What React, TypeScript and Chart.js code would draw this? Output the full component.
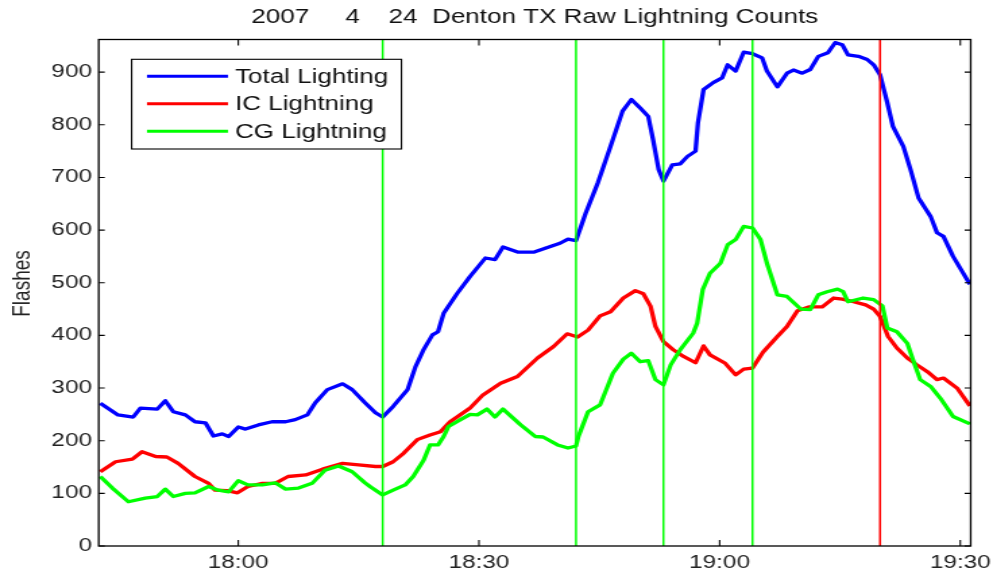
import React, { useEffect, useRef } from 'react';
import { Chart, registerables } from 'chart.js';

Chart.register(...registerables);

// ---------------- data ----------------
const chartTitle = '2007     4    24  Denton TX Raw Lightning Counts';
const yAxisTitle = 'Flashes';

// minutes after 18:00
const xTickValues = [0, 30, 60, 90];
const xTickLabels = ['18:00', '18:30', '19:00', '19:30'];
const yTickValues = [0, 100, 200, 300, 400, 500, 600, 700, 800, 900];

const seriesLabels = ['Total Lighting', 'IC Lightning', 'CG Lightning'];
const seriesColors = ['#0000ff', '#ff0000', '#00ff00'];

const totalTimes = [-17.2, -15.0, -13.1, -12.2, -10.1, -9.1, -8.1, -6.6, -5.4, -4.1, -3.1, -2.0, -1.2, 0, 0.9, 2.5, 4.2, 5.9, 7.1, 8.6, 9.6, 11.1, 13.0, 14.2, 15.8, 17.1, 18.0, 19.3, 21.1, 22.1, 23.1, 24.2, 24.9, 25.6, 27.3, 28.9, 30.8, 32.0, 33.0, 34.9, 36.8, 38.9, 40.1, 41.1, 42.1, 43.3, 44.8, 46.4, 47.9, 49.0, 50.1, 51.1, 51.7, 52.4, 53.0, 54.1, 55.1, 56.0, 57.0, 57.3, 58.0, 59.2, 60.3, 61.0, 62.0, 63.0, 64.1, 65.3, 65.9, 67.2, 68.4, 69.2, 70.3, 71.3, 72.3, 73.5, 74.4, 75.3, 76.0, 77.3, 78.4, 79.2, 80.0, 80.9, 81.6, 82.9, 83.8, 84.8, 86.3, 87.1, 87.9, 89.1, 91.2];
const totalCounts = [271, 249, 245, 262, 260, 276, 255, 249, 236, 234, 209, 213, 208, 226, 222, 230, 236, 236, 240, 249, 272, 297, 308, 297, 272, 253, 245, 265, 297, 341, 373, 401, 407, 442, 480, 512, 547, 544, 568, 558, 558, 569, 575, 583, 580, 632, 689, 759, 826, 848, 832, 816, 772, 715, 693, 724, 726, 740, 750, 804, 867, 880, 889, 914, 902, 938, 935, 927, 902, 872, 898, 904, 898, 905, 930, 937, 956, 952, 933, 930, 924, 914, 895, 842, 797, 759, 715, 661, 626, 595, 588, 550, 497];

const icTimes = [-17.2, -15.3, -13.2, -12.0, -10.3, -8.9, -7.5, -5.4, -3.7, -2.9, -1.4, -0.1, 1.2, 3.0, 4.6, 6.2, 8.4, 10.5, 13.0, 15.0, 17.1, 18.0, 19.3, 20.6, 22.3, 23.9, 25.2, 26.4, 28.9, 30.5, 32.7, 34.8, 37.3, 39.3, 41.0, 42.3, 43.6, 45.1, 46.4, 48.0, 49.5, 50.5, 51.4, 52.0, 53.0, 54.2, 55.5, 57.0, 58.0, 58.8, 60.7, 62.0, 63.0, 64.1, 65.4, 67.2, 68.4, 69.7, 71.1, 72.8, 74.2, 75.3, 76.7, 78.2, 79.2, 80.0, 81.0, 82.1, 83.4, 84.6, 85.9, 87.1, 87.9, 89.6, 91.2];
const icCounts = [141, 160, 165, 179, 170, 169, 157, 132, 119, 106, 105, 101, 113, 119, 119, 132, 135, 146, 157, 154, 151, 151, 160, 176, 202, 211, 217, 236, 262, 287, 309, 322, 357, 379, 403, 397, 410, 437, 445, 471, 485, 479, 455, 417, 388, 373, 360, 348, 380, 363, 347, 325, 336, 338, 368, 398, 417, 447, 454, 454, 471, 469, 464, 458, 450, 436, 398, 376, 357, 344, 331, 316, 319, 300, 266];

const cgTimes = [-17.2, -15.7, -13.7, -11.6, -10.1, -9.1, -8.1, -6.6, -5.4, -3.7, -2.5, -1.2, 0, 1.2, 3.0, 4.6, 5.9, 7.5, 9.2, 10.8, 12.5, 14.2, 15.8, 16.5, 18.0, 19.3, 20.8, 21.8, 23.1, 23.9, 24.9, 25.6, 26.2, 27.7, 28.9, 29.8, 31.0, 32.0, 33.0, 35.2, 37.0, 38.0, 39.8, 41.1, 42.1, 42.4, 43.6, 45.1, 46.7, 48.0, 49.0, 50.1, 51.1, 52.0, 53.0, 53.9, 55.1, 56.7, 57.2, 57.9, 58.8, 60.1, 61.0, 62.0, 63.0, 64.1, 65.1, 65.9, 67.2, 68.4, 70.1, 71.3, 72.3, 73.4, 74.7, 75.4, 76.0, 77.9, 79.2, 80.3, 80.9, 82.1, 83.4, 84.1, 85.0, 86.3, 87.5, 89.1, 91.2];
const cgCounts = [132, 110, 84, 91, 94, 108, 94, 100, 101, 113, 106, 103, 124, 116, 116, 120, 108, 110, 119, 144, 152, 141, 120, 112, 97, 106, 116, 132, 163, 192, 192, 208, 227, 240, 250, 249, 260, 245, 260, 230, 208, 207, 192, 186, 190, 208, 255, 268, 328, 355, 366, 350, 352, 316, 306, 344, 373, 404, 423, 487, 518, 537, 572, 582, 607, 604, 582, 537, 477, 474, 450, 449, 477, 483, 488, 483, 464, 471, 468, 456, 414, 407, 385, 354, 316, 303, 281, 246, 232];

// vertical event markers (minutes after 18:00)
const markerTimes = [18.0, 42.1, 53.0, 64.1, 80.0];
const markerColors = ['#00ff00', '#00ff00', '#00ff00', '#00ff00', '#ff0000'];

// ---------------- layout ----------------
const OUT_W = 993;
const OUT_H = 577;
const IN_W = 736; // internal canvas width, stretched horizontally to OUT_W
const SX = OUT_W / IN_W;
const FONT = '"Liberation Sans", Arial, Helvetica, sans-serif';

const decorPlugin = {
  id: 'decor',
  afterDatasetsDraw(chart: any) {
    const { ctx, chartArea: a, scales } = chart;
    const x = scales.x;
    const y = scales.y;
    ctx.save();
    markerTimes.forEach((t, i) => {
      const px = x.getPixelForValue(t);
      ctx.strokeStyle = markerColors[i];
      ctx.lineWidth = 1.5;
      ctx.beginPath();
      ctx.moveTo(px, a.top);
      ctx.lineTo(px, a.bottom);
      ctx.stroke();
    });
    ctx.strokeStyle = '#000';
    ctx.lineWidth = 1.3;
    ctx.strokeRect(a.left, a.top, a.right - a.left, a.bottom - a.top);
    ctx.lineWidth = 1.1;
    ctx.beginPath();
    xTickValues.forEach((v) => {
      const px = x.getPixelForValue(v);
      ctx.moveTo(px, a.bottom);
      ctx.lineTo(px, a.bottom - 6);
      ctx.moveTo(px, a.top);
      ctx.lineTo(px, a.top + 6);
    });
    yTickValues.forEach((v) => {
      const py = y.getPixelForValue(v);
      ctx.moveTo(a.left, py);
      ctx.lineTo(a.left + 4.5, py);
      ctx.moveTo(a.right, py);
      ctx.lineTo(a.right - 4.5, py);
    });
    ctx.stroke();
    ctx.restore();
  },
  afterDraw(chart: any) {
    const { ctx, chartArea: a } = chart;
    ctx.save();
    // title
    ctx.fillStyle = '#111';
    ctx.font = `19.3px ${FONT}`;
    ctx.textAlign = 'center';
    ctx.textBaseline = 'middle';
    ctx.fillText(chartTitle, (a.left + a.right) / 2, 18);
    // y axis title
    ctx.save();
    ctx.translate(22 / SX, 283.5);
    ctx.rotate(-Math.PI / 2);
    ctx.font = `19px ${FONT}`;
    ctx.fillStyle = '#222';
    ctx.fillText(yAxisTitle, 0, 0);
    ctx.restore();
    // legend
    const bx = a.left + 24.4;
    const by = a.top + 19.8;
    const bw = 200;
    const bh = 89.7;
    ctx.fillStyle = '#fff';
    ctx.fillRect(bx, by, bw, bh);
    ctx.strokeStyle = '#000';
    ctx.lineWidth = 1.1;
    ctx.strokeRect(bx, by, bw, bh);
    ctx.font = `19.3px ${FONT}`;
    ctx.textAlign = 'left';
    ctx.textBaseline = 'middle';
    seriesLabels.forEach((lab, i) => {
      const ry = by + 17 + i * 27.5;
      ctx.strokeStyle = seriesColors[i];
      ctx.lineWidth = 3;
      ctx.beginPath();
      ctx.moveTo(bx + 11.4, ry);
      ctx.lineTo(bx + 71.4, ry);
      ctx.stroke();
      ctx.fillStyle = '#111';
      ctx.fillText(lab, bx + 76.6, ry + 1);
    });
    ctx.restore();
  },
};

function makeSeries(times: number[], counts: number[]) {
  return times.map((t, i) => ({ x: t, y: counts[i] }));
}

export default function App() {
  const ref = useRef<HTMLCanvasElement | null>(null);
  useEffect(() => {
    const canvas = ref.current;
    if (!canvas) return;
    const seriesData = [
      makeSeries(totalTimes, totalCounts),
      makeSeries(icTimes, icCounts),
      makeSeries(cgTimes, cgCounts),
    ];
    const chart = new Chart(canvas, {
      type: 'line',
      data: {
        datasets: seriesLabels.map((label, i) => ({
          label,
          data: seriesData[i],
          borderColor: seriesColors[i],
          backgroundColor: seriesColors[i],
          borderWidth: 3.3,
          pointRadius: 0,
          tension: 0,
          fill: false,
          order: 3 - i,
          borderJoinStyle: 'round' as const,
        })),
      },
      options: {
        animation: false,
        responsive: false,
        devicePixelRatio: 1,
        layout: { padding: { left: 0, right: IN_W - 970.7 / SX, top: 39.5, bottom: 0 } },
        plugins: {
          legend: { display: false },
          title: { display: false },
          tooltip: { enabled: false },
        },
        scales: {
          x: {
            type: 'linear',
            min: -17.4,
            max: 91.3,
            grid: { display: false, drawTicks: false },
            border: { display: false },
            afterBuildTicks: (s: any) => {
              s.ticks = xTickValues.map((v) => ({ value: v }));
            },
            afterFit: (s: any) => {
              s.height = OUT_H - 546;
              s.paddingLeft = 0;
              s.paddingRight = 0;
            },
            ticks: {
              autoSkip: false,
              maxRotation: 0,
              padding: 6,
              color: '#222',
              font: { family: FONT, size: 18 },
              callback: (_v: any, i: number) => xTickLabels[i],
            },
          },
          y: {
            type: 'linear',
            min: 0,
            max: 962,
            grid: { display: false, drawTicks: false },
            border: { display: false },
            afterBuildTicks: (s: any) => {
              s.ticks = yTickValues.map((v) => ({ value: v }));
            },
            afterFit: (s: any) => {
              s.width = 98.7 / SX;
              s.paddingTop = 0;
              s.paddingBottom = 0;
            },
            ticks: {
              autoSkip: false,
              padding: 5,
              color: '#222',
              font: { family: FONT, size: 18 },
            },
          },
        },
      },
      plugins: [decorPlugin],
    });
    return () => chart.destroy();
  }, []);
  return (
    <canvas
      ref={ref}
      width={IN_W}
      height={OUT_H}
      style={{ position: 'absolute', left: 0, top: 0, width: OUT_W + 'px', height: OUT_H + 'px', display: 'block' }}
    />
  );
}
